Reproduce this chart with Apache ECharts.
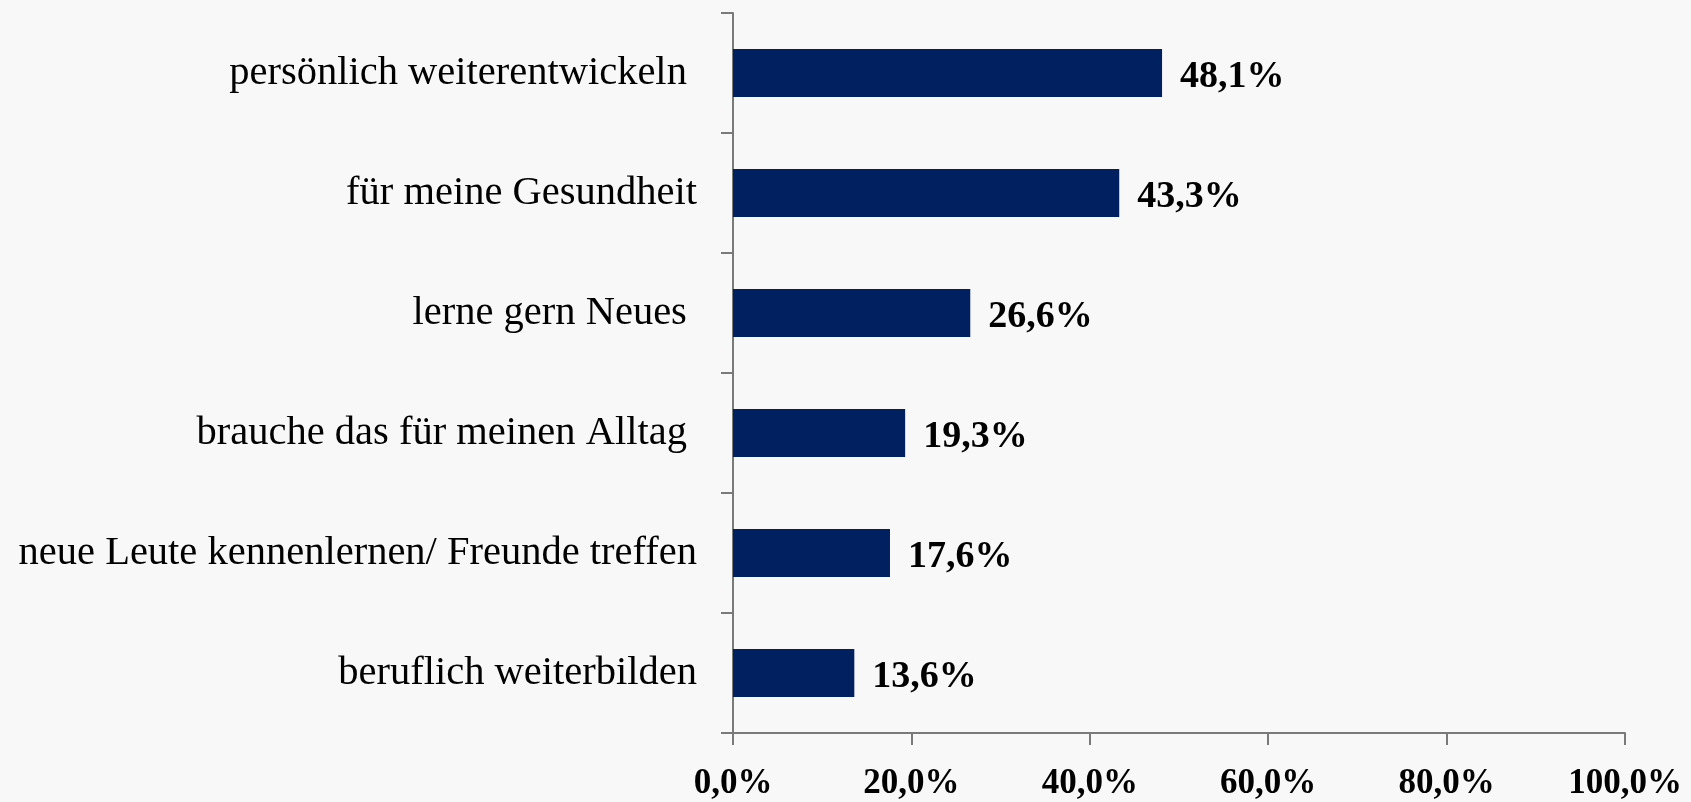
<!DOCTYPE html>
<html>
<head>
<meta charset="utf-8">
<script src="https://cdn.jsdelivr.net/npm/echarts@6/dist/echarts.min.js"></script>
<style>
  html, body { margin: 0; padding: 0; background: #f8f8f8; }
  #chart { width: 1691px; height: 802px; }
</style>
</head>
<body>
<div id="chart"></div>
<script>
// Kategorien von oben nach unten
const categories = [
  'persönlich weiterentwickeln ',
  'für meine Gesundheit',
  'lerne gern Neues ',
  'brauche das für meinen Alltag ',
  'neue Leute kennenlernen/ Freunde treffen',
  'beruflich weiterbilden'
];
const values = [48.1, 43.3, 26.6, 19.3, 17.6, 13.6];
const tickValues = [0, 20, 40, 60, 80, 100];

const fmt = (v) => v.toFixed(1).replace('.', ',') + '%';

const myChart = echarts.init(document.getElementById('chart'));

const option = {
  backgroundColor: '#f8f8f8',
  animation: false,
  grid: {
    left: 733,
    right: 66,
    top: 13,
    bottom: 69
  },
  xAxis: {
    type: 'value',
    min: tickValues[0],
    max: tickValues[tickValues.length - 1],
    interval: 20,
    splitLine: { show: false },
    axisLine: { show: true, lineStyle: { color: '#7a7a7a', width: 2 } },
    axisTick: { show: true, length: 12, lineStyle: { color: '#7a7a7a', width: 2 } },
    axisLabel: {
      margin: 33,
      fontFamily: 'Liberation Serif',
      fontSize: 35,
      fontWeight: 'bold',
      color: '#000',
      formatter: fmt
    }
  },
  yAxis: {
    type: 'category',
    data: categories,
    inverse: true,
    axisLine: { show: true, lineStyle: { color: '#7a7a7a', width: 2 } },
    axisTick: { show: true, length: 12, lineStyle: { color: '#7a7a7a', width: 2 } },
    axisLabel: {
      margin: 36,
      fontFamily: 'Liberation Serif',
      fontSize: 40.5,
      color: '#000'
    }
  },
  series: [
    {
      type: 'bar',
      data: values,
      barCategoryGap: '60%',
      itemStyle: { color: '#002060' },
      label: {
        show: true,
        position: 'right',
        distance: 18,
        offset: [0, 4],
        fontFamily: 'Liberation Serif',
        fontSize: 38,
        fontWeight: 'bold',
        color: '#000',
        formatter: (p) => fmt(p.value)
      }
    }
  ]
};

myChart.setOption(option);
</script>
</body>
</html>
